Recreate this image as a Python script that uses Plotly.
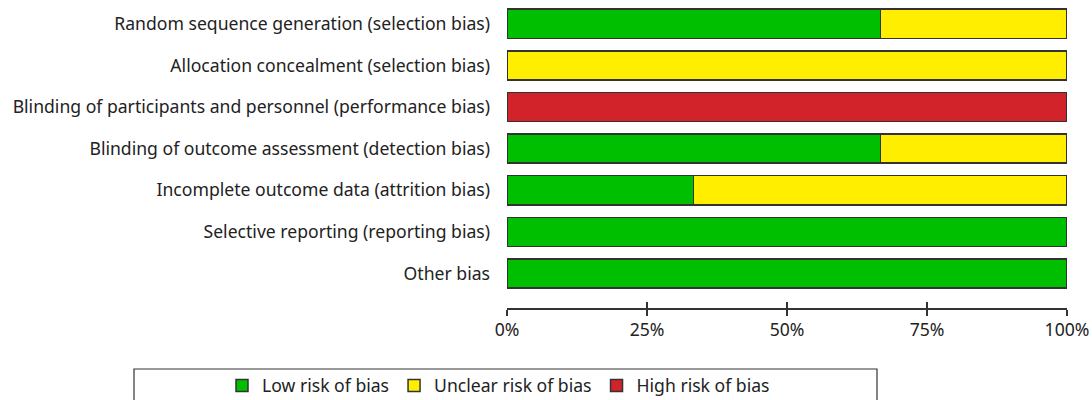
import plotly.graph_objects as go

domains = [
    "Random sequence generation (selection bias)",
    "Allocation concealment (selection bias)",
    "Blinding of participants and personnel (performance bias)",
    "Blinding of outcome assessment (detection bias)",
    "Incomplete outcome data (attrition bias)",
    "Selective reporting (reporting bias)",
    "Other bias",
]
low = [66.67, 0, 0, 66.67, 33.33, 100, 100]
unclear = [33.33, 100, 0, 33.33, 66.67, 0, 0]
high = [0, 0, 100, 0, 0, 0, 0]
tick_vals = [0, 25, 50, 75, 100]
tick_text = ["0%", "25%", "50%", "75%", "100%"]

series = [
    ("Low risk of bias", low, "#00BF00"),
    ("Unclear risk of bias", unclear, "#FFEE00"),
    ("High risk of bias", high, "#D2232A"),
]

FONT = "Noto Sans"
FS = 17.6
W, H = 1092, 400
L, R, T, B = 507, 25, 3, 92
PH = H - T - B
PW = W - L - R

fig = go.Figure()
for name, vals, col in series:
    fig.add_trace(go.Bar(
        y=domains, x=vals, name=name, orientation="h",
        marker=dict(color=col, line=dict(color="#333333", width=1.5)),
        width=0.7,
    ))

# dummy trace to activate the overlay axis (inner tick halves)
fig.add_trace(go.Scatter(x=[None], y=[None], xaxis="x2", showlegend=False, hoverinfo="skip"))

fig.update_layout(
    barmode="stack",
    width=W, height=H,
    margin=dict(l=L, r=R, t=T, b=B, autoexpand=False),
    plot_bgcolor="white", paper_bgcolor="white",
    font=dict(family=FONT, size=FS, color="#222222"),
    showlegend=True,
    legend=dict(
        orientation="h", xref="paper", xanchor="left",
        x=(222 - L) / PW,
        yref="paper", yanchor="middle", y=-(385.5 - (T + PH)) / PH,
        font=dict(family=FONT, size=FS, color="#222222"),
        traceorder="normal", itemclick=False,
        bgcolor="rgba(0,0,0,0)",
    ),
    xaxis=dict(
        range=[0, 100], tickvals=tick_vals, ticktext=tick_text,
        showgrid=False, zeroline=False,
        showline=True, linecolor="#333333", linewidth=1.5,
        ticks="outside", ticklen=6, tickwidth=1.5, tickcolor="#333333",
        ticklabelstandoff=-1,
    ),
    xaxis2=dict(
        range=[0, 100], tickvals=tick_vals, showticklabels=False,
        overlaying="x", anchor="y", side="bottom",
        showgrid=False, zeroline=False, showline=False,
        ticks="inside", ticklen=6, tickwidth=1.5, tickcolor="#333333",
    ),
    yaxis=dict(
        categoryorder="array", categoryarray=domains,
        range=[6.83, -0.5],
        showgrid=False, zeroline=False, showline=False,
        ticks="", ticklabelstandoff=16,
    ),
)

fig.add_shape(type="rect", xref="paper", yref="paper",
              x0=(134 - L) / PW, x1=(877 - L) / PW,
              y0=-(369 - (T + PH)) / PH, y1=-(405 - (T + PH)) / PH,
              line=dict(color="#333333", width=1.2), fillcolor="rgba(0,0,0,0)")

fig.write_html(
    "out.html",
    config={"displayModeBar": False},
    post_script="document.body.style.margin='0';document.body.style.overflow='hidden';",
)
